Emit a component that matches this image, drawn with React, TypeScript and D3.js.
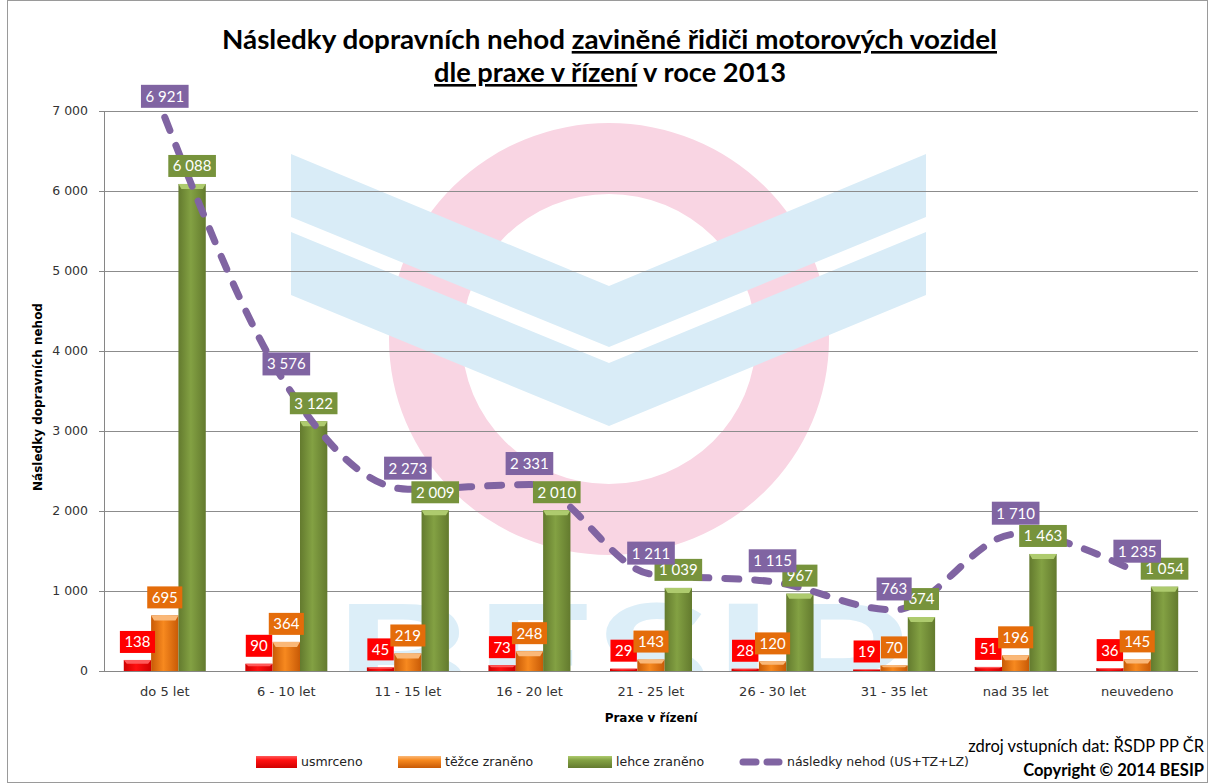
import React, { useMemo } from 'react';
import * as d3 from 'd3';

const categories = ['do 5 let', '6 - 10 let', '11 - 15 let', '16 - 20 let', '21 - 25 let', '26 - 30 let', '31 - 35 let', 'nad 35 let', 'neuvedeno'];
const usmrceno = [138, 90, 45, 73, 29, 28, 19, 51, 36];
const tezceZraneno = [695, 364, 219, 248, 143, 120, 70, 196, 145];
const lehceZraneno = [6088, 3122, 2009, 2010, 1039, 967, 674, 1463, 1054];
const nasledky = [6921, 3576, 2273, 2331, 1211, 1115, 763, 1710, 1235];
const yTicks = [0, 1000, 2000, 3000, 4000, 5000, 6000, 7000];

const W = 1212;
const H = 783;
const FONT_C = 'Lato, "Open Sans", sans-serif';
const FONT_V = '"DejaVu Sans", Verdana, sans-serif';

const fmt = d3.formatLocale({ decimal: ',', thousands: '\u00a0', grouping: [3], currency: ['', ''] }).format(',d');

const series = [
  { key: 'u', name: 'usmrceno', values: usmrceno, edge: '#D00000', mid: '#FF1010', bevel: '#FF5A5A', box: '#FF0000' },
  { key: 't', name: 'těžce zraněno', values: tezceZraneno, edge: '#C85A06', mid: '#F7891F', bevel: '#FAB878', box: '#E46C0A' },
  { key: 'l', name: 'lehce zraněno', values: lehceZraneno, edge: '#637A2E', mid: '#83A143', bevel: '#AECB6E', box: '#77933C' },
];
const PURPLE = '#8064A2';

let ctx: CanvasRenderingContext2D | null = null;
function measure(text: string, font: string) {
  if (!ctx) ctx = document.createElement('canvas').getContext('2d');
  if (!ctx) return text.length * 8;
  ctx.font = font;
  return ctx.measureText(text).width;
}

export default function App() {
  const m = { left: 104, right: 1198, top: 111, bottom: 671 };
  const x = d3.scaleBand<string>().domain(categories).range([m.left, m.right]);
  const sub = d3.scaleBand<string>().domain(series.map(s => s.key)).range([-41, 41]);
  const y = d3.scaleLinear().domain([0, 7000]).range([m.bottom, m.top]);
  const cx = (c: string) => (x(c) as number) + x.bandwidth() / 2;

  const line = d3.line<number>()
    .x((_, i) => cx(categories[i]))
    .y(d => y(d))
    .curve(d3.curveMonotoneX);

  const labels = useMemo(() => {
    const out: { x: number; y: number; h: number; text: string; fill: string; w: number }[] = [];
    series.forEach(s => {
      s.values.forEach((v, i) => {
        const t = fmt(v);
        const bx = cx(categories[i]) + (sub(s.key) as number) + sub.bandwidth() / 2;
        out.push({ x: bx, y: y(v) - 18, h: 22, text: t, fill: s.box, w: measure(t, `15px ${FONT_C}`) + 9 });
      });
    });
    nasledky.forEach((v, i) => {
      const t = fmt(v);
      out.push({ x: cx(categories[i]), y: y(v) - 21, h: 23, text: t, fill: PURPLE, w: measure(t, `15px ${FONT_C}`) + 9 });
    });
    return out;
  }, []);

  const legendItems = [
    { x: 256, w: 41, s: series[0] },
    { x: 398, w: 43, s: series[1] },
    { x: 568, w: 44, s: series[2] },
  ];

  return (
    <svg width={W} height={H} style={{ position: 'absolute', left: 0, top: 0, background: '#fff' }}>
      <defs>
        {series.map(s => (
          <linearGradient key={s.key} id={`g-${s.key}`} x1="0" x2="1" y1="0" y2="0">
            <stop offset="0" stopColor={s.edge} />
            <stop offset="0.45" stopColor={s.mid} />
            <stop offset="1" stopColor={s.edge} />
          </linearGradient>
        ))}
        {series.map(s => (
          <linearGradient key={s.key} id={`lg-${s.key}`} x1="0" x2="0" y1="0" y2="1">
            <stop offset="0" stopColor={s.bevel} />
            <stop offset="0.35" stopColor={s.mid} />
            <stop offset="1" stopColor={s.edge} />
          </linearGradient>
        ))}
        <clipPath id="plotClip">
          <rect x={m.left} y={m.top} width={m.right - m.left} height={m.bottom - m.top} />
        </clipPath>
      </defs>

      <rect x={7.5} y={0.5} width={1200} height={782} fill="#fff" stroke="#9a9a9a" />

      {/* watermark */}
      <g clipPath="url(#plotClip)">
        <path
          d={`M ${609 - 220} 339 a 220 216 0 1 0 440 0 a 220 216 0 1 0 -440 0 Z M ${609 - 147} 339 a 147 145 0 1 1 294 0 a 147 145 0 1 1 -294 0 Z`}
          fill="#F9D5E3" fillRule="evenodd" />
        <polygon points="291,154 609,286 926,154 926,217 609,347 291,217" fill="#D9ECF7" />
        <polygon points="291,232 609,363 926,232 926,295 609,426 291,295" fill="#D9ECF7" />
        <text x={332} y={712} fontFamily={FONT_C} fontWeight="bold" fontSize={150} fill="#DCEEF8"
          textLength={575} lengthAdjust="spacingAndGlyphs">BESIP</text>
      </g>

      {/* title */}
      <text x={609.5} y={49} textAnchor="middle" fontFamily={FONT_C} fontWeight="bold" fontSize={26} fill="#000"
        textLength={775} lengthAdjust="spacingAndGlyphs">
        Následky dopravních nehod <tspan textDecoration="underline">zaviněné řidiči motorových vozidel</tspan>
      </text>
      <text x={610} y={82} textAnchor="middle" fontFamily={FONT_C} fontWeight="bold" fontSize={26} fill="#000"
        textLength={352} lengthAdjust="spacingAndGlyphs">
        <tspan textDecoration="underline">dle praxe v řízení</tspan> v roce 2013
      </text>

      {/* grid + y axis */}
      {yTicks.map(t => (
        <g key={t}>
          {t > 0 && <line x1={m.left} x2={m.right} y1={y(t) + 0.5} y2={y(t) + 0.5} stroke="#8C8C8C" />}
          <line x1={m.left - 5} x2={m.left} y1={y(t) + 0.5} y2={y(t) + 0.5} stroke="#868686" />
          <text x={88} y={y(t)} dy="0.35em" textAnchor="end" fontFamily={FONT_V} fontSize={12.5} fill="#333">{fmt(t)}</text>
        </g>
      ))}
      <line x1={m.left + 0.5} x2={m.left + 0.5} y1={m.top} y2={m.bottom} stroke="#868686" />
      <line x1={m.left} x2={m.right} y1={m.bottom + 0.5} y2={m.bottom + 0.5} stroke="#868686" />

      {/* bars */}
      {series.map(s => s.values.map((v, i) => {
        const bx = cx(categories[i]) + (sub(s.key) as number);
        const bw = sub.bandwidth();
        const top = y(v);
        const bh = m.bottom - top;
        const bev = Math.min(5, bh * 0.35);
        return (
          <g key={s.key + i}>
            <rect x={bx} y={top} width={bw} height={bh} fill={`url(#g-${s.key})`} />
            <polygon points={`${bx},${top} ${bx + bw},${top} ${bx + bw - 3},${top + bev} ${bx + 3},${top + bev}`} fill={s.bevel} />
          </g>
        );
      }))}

      {/* total line */}
      <path d={line(nasledky) || ''} fill="none" stroke={PURPLE} strokeWidth={7} strokeDasharray="14 16" strokeLinecap="round" />

      {/* data labels */}
      {labels.map((l, i) => (
        <g key={i}>
          <rect x={l.x - l.w / 2} y={l.y - l.h / 2} width={l.w} height={l.h} fill={l.fill} />
          <text x={l.x} y={l.y} dy="0.36em" textAnchor="middle" fontFamily={FONT_C} fontSize={15} fill="#fff">{l.text}</text>
        </g>
      ))}

      {/* category labels */}
      {categories.map(c => (
        <text key={c} x={cx(c)} y={691} dy="0.35em" textAnchor="middle" fontFamily={FONT_V} fontSize={13} fill="#333">{c}</text>
      ))}

      {/* axis titles */}
      <text x={651} y={718} dy="0.35em" textAnchor="middle" fontFamily={FONT_V} fontWeight="bold" fontSize={12} fill="#000">Praxe v řízení</text>
      <text transform="translate(38,397) rotate(-90)" dy="0.35em" textAnchor="middle" fontFamily={FONT_V} fontWeight="bold" fontSize={12} fill="#000">Následky dopravních nehod</text>

      {/* legend */}
      {legendItems.map(li => (
        <g key={li.s.key}>
          <rect x={li.x} y={756} width={li.w} height={12} fill={`url(#lg-${li.s.key})`} />
          <text x={li.x + li.w + 4} y={762} dy="0.35em" fontFamily={FONT_V} fontSize={12.5} fill="#222">{li.s.name}</text>
        </g>
      ))}
      <line x1={743} x2={756} y1={762} y2={762} stroke={PURPLE} strokeWidth={7} strokeLinecap="round" />
      <line x1={767} x2={779} y1={762} y2={762} stroke={PURPLE} strokeWidth={7} strokeLinecap="round" />
      <text x={787} y={762} dy="0.35em" fontFamily={FONT_V} fontSize={12.5} fill="#222">následky nehod (US+TZ+LZ)</text>

      {/* source */}
      <text x={1204} y={752} textAnchor="end" fontFamily={FONT_C} fontSize={16.5} fill="#000">zdroj vstupních dat: ŘSDP PP ČR</text>
      <text x={1204} y={776} textAnchor="end" fontFamily={FONT_C} fontWeight="bold" fontSize={16.5} fill="#000">Copyright © 2014 BESIP</text>
    </svg>
  );
}
